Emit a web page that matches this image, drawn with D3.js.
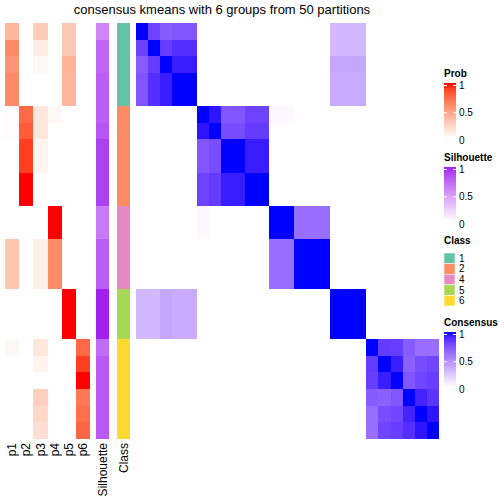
<!DOCTYPE html>
<html><head><meta charset="utf-8">
<script src="https://cdn.jsdelivr.net/npm/d3@7"></script>
<style>body{margin:0;background:#fff}svg{display:block}text{font-family:"Liberation Sans",Arial,sans-serif}</style>
</head><body>
<script>
const title = "consensus kmeans with 6 groups from 50 partitions";
const probCols = ["p1","p2","p3","p4","p5","p6"];
const p1 = [0.38,0.6,0.55,0.6,0.6, 0.02,0.02,0,0,0,0, 0,0,0.3,0.3,0.3, 0,0,0, 0.04,0,0,0,0,0];
const p2 = [0,0,0,0,0, 0.75,0.8,0.9,0.9,1,1, 0,0,0,0,0, 0,0,0, 0,0,0,0,0,0];
const p3 = [0.27,0.1,0.04,0,0, 0.13,0.13,0.06,0.06,0,0, 0,0,0.08,0.08,0.08, 0,0,0, 0.13,0.06,0,0.25,0.21,0.17];
const p4 = [0,0,0,0,0, 0.04,0,0,0,0,0, 1,1,0.6,0.6,0.6, 0,0,0, 0,0,0,0,0,0];
const p5 = [0.3,0.3,0.4,0.38,0.38, 0,0,0,0,0,0, 0,0,0,0,0, 1,1,1, 0,0,0,0,0,0];
const p6 = [0,0,0,0,0, 0,0,0,0,0,0, 0,0,0,0,0, 0,0,0, 0.75,0.9,1,0.68,0.72,0.76];
const silhouette = [0.6,0.75,0.75,0.78,0.78, 0.78,0.82,0.9,0.9,0.9,0.9, 0.65,0.65,0.78,0.78,0.78, 1,1,1, 0.72,0.8,0.8,0.8,0.8,0.8];
const classes = ["1","1","1","1","1","2","2","2","2","2","2","4","4","4","4","4","5","5","5","6","6","6","6","6","6"];
const classLevels = ["1","2","4","5","6"];
const classColors = ["#66c2a5","#fc8d62","#e78ac3","#a6d854","#ffd92f"];
const consensus = [
 [1,.8,.7,.72,.72, 0,0,0,0,0,0, 0,0,0,0,0, .3,.3,.3, 0,0,0,0,0,0],
 [.8,1,.82,.88,.88, 0,0,0,0,0,0, 0,0,0,0,0, .3,.3,.3, 0,0,0,0,0,0],
 [.7,.82,1,.94,.94, 0,0,0,0,0,0, 0,0,0,0,0, .37,.37,.37, 0,0,0,0,0,0],
 [.72,.88,.94,1,1, 0,0,0,0,0,0, 0,0,0,0,0, .35,.35,.35, 0,0,0,0,0,0],
 [.72,.88,.94,1,1, 0,0,0,0,0,0, 0,0,0,0,0, .35,.35,.35, 0,0,0,0,0,0],
 [0,0,0,0,0, 1,.96,.72,.72,.8,.8, .03,.03,0,0,0, 0,0,0, 0,0,0,0,0,0],
 [0,0,0,0,0, .96,1,.76,.76,.83,.83, 0,0,0,0,0, 0,0,0, 0,0,0,0,0,0],
 [0,0,0,0,0, .72,.76,1,1,.94,.94, 0,0,0,0,0, 0,0,0, 0,0,0,0,0,0],
 [0,0,0,0,0, .72,.76,1,1,.94,.94, 0,0,0,0,0, 0,0,0, 0,0,0,0,0,0],
 [0,0,0,0,0, .8,.83,.94,.94,1,1, 0,0,0,0,0, 0,0,0, 0,0,0,0,0,0],
 [0,0,0,0,0, .8,.83,.94,.94,1,1, 0,0,0,0,0, 0,0,0, 0,0,0,0,0,0],
 [0,0,0,0,0, .03,0,0,0,0,0, 1,1,.62,.62,.62, 0,0,0, 0,0,0,0,0,0],
 [0,0,0,0,0, .03,0,0,0,0,0, 1,1,.62,.62,.62, 0,0,0, 0,0,0,0,0,0],
 [0,0,0,0,0, 0,0,0,0,0,0, .62,.62,1,1,1, 0,0,0, 0,0,0,0,0,0],
 [0,0,0,0,0, 0,0,0,0,0,0, .62,.62,1,1,1, 0,0,0, 0,0,0,0,0,0],
 [0,0,0,0,0, 0,0,0,0,0,0, .62,.62,1,1,1, 0,0,0, 0,0,0,0,0,0],
 [.3,.3,.37,.35,.35, 0,0,0,0,0,0, 0,0,0,0,0, 1,1,1, 0,0,0,0,0,0],
 [.3,.3,.37,.35,.35, 0,0,0,0,0,0, 0,0,0,0,0, 1,1,1, 0,0,0,0,0,0],
 [.3,.3,.37,.35,.35, 0,0,0,0,0,0, 0,0,0,0,0, 1,1,1, 0,0,0,0,0,0],
 [0,0,0,0,0, 0,0,0,0,0,0, 0,0,0,0,0, 0,0,0, 1,.83,.82,.7,.62,.62],
 [0,0,0,0,0, 0,0,0,0,0,0, 0,0,0,0,0, 0,0,0, .83,1,.94,.68,.76,.79],
 [0,0,0,0,0, 0,0,0,0,0,0, 0,0,0,0,0, 0,0,0, .82,.94,1,.72,.79,.82],
 [0,0,0,0,0, 0,0,0,0,0,0, 0,0,0,0,0, 0,0,0, .7,.68,.72,1,.92,.86],
 [0,0,0,0,0, 0,0,0,0,0,0, 0,0,0,0,0, 0,0,0, .62,.76,.79,.92,1,.96],
 [0,0,0,0,0, 0,0,0,0,0,0, 0,0,0,0,0, 0,0,0, .62,.79,.82,.88,.96,1]
];
const legendTicks = [0, 0.5, 1];

const probs = [p1,p2,p3,p4,p5,p6];
const n = consensus.length;
const idx = d3.range(n);

const svg = d3.select("body").append("svg").attr("width",504).attr("height",504);

const probColor = d3.scaleLinear().domain([0,1]).range(["#ffffff","#ff0000"]).interpolate(d3.interpolateLab);
const silColor = d3.scaleLinear().domain([0,1]).range(["#ffffff","#a020f0"]).interpolate(d3.interpolateLab);
const consColor = d3.scaleLinear().domain([0,1]).range(["#ffffff","#0000ff"]).interpolate(d3.interpolateLab);
const classColor = d3.scaleOrdinal().domain(classLevels).range(classColors);

const y = d3.scaleBand().domain(idx).range([23,439]);
const xm = d3.scaleBand().domain(idx).range([136,439]);
const xp = d3.scaleBand().domain(probCols).range([5,90]);
const xa = d3.scaleBand().domain(["Silhouette","Class"]).range([96,130]).paddingInner(6/34*2);

// cell height with tiny overlap, clipped to the last band edge
const ch = i => Math.min(y.bandwidth()+0.6, 439 - y(i));
const cwm = c => Math.min(xm.bandwidth()+0.6, 439 - xm(c));

svg.append("text").attr("x",222).attr("y",13.5).attr("text-anchor","middle")
  .attr("font-size",13).attr("fill","#000").text(title);

const cellsG = svg.append("g").attr("shape-rendering","crispEdges");

// prob columns
probCols.forEach((c,ci)=>{
  cellsG.append("g").selectAll("rect").data(idx).join("rect")
    .attr("x",xp(c)).attr("width",xp.bandwidth()+(ci<probCols.length-1?0.6:0))
    .attr("y",i=>y(i)).attr("height",ch)
    .attr("fill",i=>probColor(probs[ci][i]));
});
// silhouette
cellsG.append("g").selectAll("rect").data(idx).join("rect")
  .attr("x",xa("Silhouette")).attr("width",xa.bandwidth())
  .attr("y",i=>y(i)).attr("height",ch)
  .attr("fill",i=>silColor(silhouette[i]));
// class
cellsG.append("g").selectAll("rect").data(idx).join("rect")
  .attr("x",xa("Class")).attr("width",xa.bandwidth())
  .attr("y",i=>y(i)).attr("height",ch)
  .attr("fill",i=>classColor(classes[i]));
// consensus
const cells = [];
idx.forEach(r=>idx.forEach(c=>cells.push({r,c,v:consensus[r][c]})));
cellsG.append("g").selectAll("rect").data(cells).join("rect")
  .attr("x",d=>xm(d.c)).attr("width",d=>cwm(d.c))
  .attr("y",d=>y(d.r)).attr("height",d=>ch(d.r))
  .attr("fill",d=>consColor(d.v));

// bottom labels
const labs = probCols.map(c=>({t:c,x:xp(c)+xp.bandwidth()/2}))
  .concat(["Silhouette","Class"].map(c=>({t:c,x:xa(c)+xa.bandwidth()/2})));
svg.append("g").selectAll("text").data(labs).join("text")
  .attr("transform",d=>`translate(${d.x},443) rotate(-90)`)
  .attr("text-anchor","end").attr("dy","0.35em").attr("font-size",12).attr("fill","#000")
  .text(d=>d.t);

// legends
const defs = svg.append("defs");
function colorBar(id, name, scale, top){
  const g = svg.append("g");
  g.append("text").attr("x",444).attr("y",top-6).attr("font-size",10).attr("font-weight","bold").text(name);
  const grad = defs.append("linearGradient").attr("id",id).attr("x1",0).attr("x2",0).attr("y1",0).attr("y2",1);
  d3.range(0,1.0001,0.1).forEach(t=>grad.append("stop").attr("offset",t).attr("stop-color",scale(1-t)));
  g.append("rect").attr("x",444).attr("y",top).attr("width",12).attr("height",55).attr("fill",`url(#${id})`);
  const ly = d3.scaleLinear().domain([0,1]).range([top+57,top+2.5]);
  legendTicks.forEach(t=>{
    if(t>0){
      g.append("line").attr("x1",444).attr("x2",447).attr("y1",ly(t)).attr("y2",ly(t)).attr("stroke","#fff").attr("stroke-width",1);
      g.append("line").attr("x1",453).attr("x2",456).attr("y1",ly(t)).attr("y2",ly(t)).attr("stroke","#fff").attr("stroke-width",1);
    }
    g.append("text").attr("x",459).attr("y",ly(t)).attr("dy","0.35em").attr("font-size",10).text(String(t));
  });
}
colorBar("gp","Prob",probColor,83);
colorBar("gs","Silhouette",silColor,167);
colorBar("gc","Consensus",consColor,332);

const cg = svg.append("g");
cg.append("text").attr("x",444).attr("y",244).attr("font-size",10).attr("font-weight","bold").text("Class");
const ly2 = d3.scaleBand().domain(classLevels).range([253,306]);
cg.selectAll("rect").data(classLevels).join("rect")
  .attr("x",444).attr("width",11).attr("y",d=>ly2(d)).attr("height",ly2.bandwidth())
  .attr("fill",d=>classColor(d)).attr("stroke","#fff").attr("stroke-width",0.5);
cg.selectAll("text.l").data(classLevels).join("text").attr("class","l")
  .attr("x",459).attr("y",d=>ly2(d)+ly2.bandwidth()/2).attr("dy","0.35em").attr("font-size",10).text(d=>d);
</script>
</body></html>
